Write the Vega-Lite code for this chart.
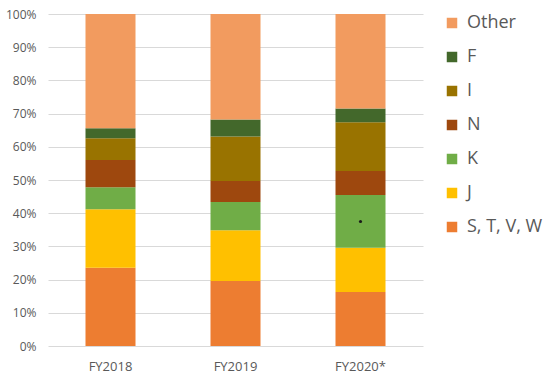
{
  "$schema": "https://vega.github.io/schema/vega-lite/v6.json",
  "autosize": "none",
  "width": 375,
  "height": 332,
  "padding": {"left": 48, "top": 14, "right": 127, "bottom": 30},
  "background": "white",
  "config": {
    "view": {"stroke": null},
    "font": "Open Sans",
    "axis": {"labelColor": "#595959", "labelFont": "Open Sans", "labelFontSize": 12}
  },
  "layer": [
    {
      "data": {"values": [
        {"year": "FY2018", "series": "S, T, V, W", "idx": 1, "value": 23.6},
        {"year": "FY2018", "series": "J", "idx": 2, "value": 17.6},
        {"year": "FY2018", "series": "K", "idx": 3, "value": 6.6},
        {"year": "FY2018", "series": "N", "idx": 4, "value": 8.2},
        {"year": "FY2018", "series": "I", "idx": 5, "value": 6.6},
        {"year": "FY2018", "series": "F", "idx": 6, "value": 3.0},
        {"year": "FY2018", "series": "Other", "idx": 7, "value": 34.4},
        {"year": "FY2019", "series": "S, T, V, W", "idx": 1, "value": 19.6},
        {"year": "FY2019", "series": "J", "idx": 2, "value": 15.3},
        {"year": "FY2019", "series": "K", "idx": 3, "value": 8.5},
        {"year": "FY2019", "series": "N", "idx": 4, "value": 6.3},
        {"year": "FY2019", "series": "I", "idx": 5, "value": 13.4},
        {"year": "FY2019", "series": "F", "idx": 6, "value": 5.1},
        {"year": "FY2019", "series": "Other", "idx": 7, "value": 31.8},
        {"year": "FY2020*", "series": "S, T, V, W", "idx": 1, "value": 16.3},
        {"year": "FY2020*", "series": "J", "idx": 2, "value": 13.3},
        {"year": "FY2020*", "series": "K", "idx": 3, "value": 15.9},
        {"year": "FY2020*", "series": "N", "idx": 4, "value": 7.2},
        {"year": "FY2020*", "series": "I", "idx": 5, "value": 14.7},
        {"year": "FY2020*", "series": "F", "idx": 6, "value": 4.1},
        {"year": "FY2020*", "series": "Other", "idx": 7, "value": 28.5}
      ]},
      "mark": {"type": "bar", "width": {"band": 0.4}},
      "encoding": {
        "x": {
          "field": "year", "type": "nominal", "sort": null,
          "scale": {"paddingInner": 0, "paddingOuter": 0},
          "axis": {"title": null, "labelAngle": 0, "ticks": false, "domain": false, "labelPadding": 14, "labelFontSize": 13}
        },
        "y": {
          "field": "value", "type": "quantitative", "stack": "normalize",
          "scale": {"domain": [0, 1], "nice": false},
          "axis": {"title": null, "format": ".0%", "values": [0,0.1,0.2,0.3,0.4,0.5,0.6,0.7,0.8,0.9,1], "labelOverlap": false, "labelFlush": false, "ticks": false, "domain": false, "gridColor": "#D9D9D9", "gridWidth": 1, "labelPadding": 12}
        },
        "color": {
          "field": "series", "type": "nominal",
          "scale": {
            "domain": ["Other", "F", "I", "N", "K", "J", "S, T, V, W"],
            "range": ["#F29B5F", "#43682B", "#997300", "#9E480E", "#70AD47", "#FFC000", "#ED7D31"]
          },
          "legend": {
            "title": null, "orient": "right", "offset": 20, "symbolType": "square", "symbolSize": 110,
            "symbolStrokeWidth": 0, "labelFontSize": 18, "labelColor": "#595959", "labelFont": "Open Sans",
            "rowPadding": 16, "labelOffset": 6, "padding": 0
          }
        },
        "order": {"field": "idx", "type": "quantitative", "sort": "ascending"}
      }
    },
    {
      "data": {"values": [{"year": "FY2020*", "value": 0.375}]},
      "mark": {"type": "point", "filled": true, "color": "#1a1a1a", "size": 10, "opacity": 1},
      "encoding": {
        "x": {"field": "year", "type": "nominal", "sort": null, "axis": {"title": null, "labelAngle": 0, "ticks": false, "domain": false, "labelPadding": 14, "labelFontSize": 13}},
        "y": {
          "field": "value", "type": "quantitative",
          "axis": {"title": null, "format": ".0%", "values": [0,0.1,0.2,0.3,0.4,0.5,0.6,0.7,0.8,0.9,1], "labelOverlap": false, "labelFlush": false, "ticks": false, "domain": false, "gridColor": "#D9D9D9", "gridWidth": 1, "labelPadding": 12}
        }
      }
    }
  ]
}
